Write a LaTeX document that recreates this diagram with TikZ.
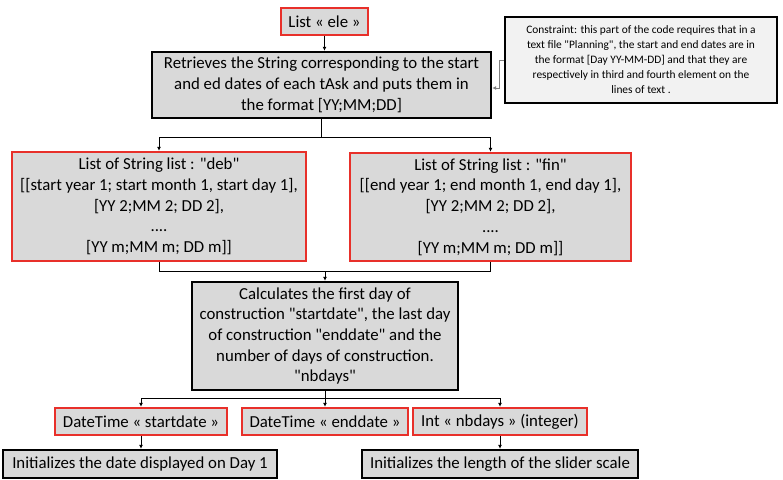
\documentclass[tikz,border=0pt]{standalone}
\usepackage{fontspec}
\newfontfamily\carl{Carlito}
\usetikzlibrary{arrows.meta,calc}
\definecolor{boxgray}{HTML}{D9D9D9}
\definecolor{consgray}{HTML}{F2F2F2}
\definecolor{redline}{HTML}{E8302A}
\begin{document}
\begin{tikzpicture}[x=1pt,y=1pt,
  base/.style={draw, fill=boxgray, align=center, inner sep=2pt, font=\carl\fontsize{16.8}{20.7}\selectfont},
  redbox/.style={base, draw=redline, line width=2.4pt},
  blackbox/.style={base, draw=black, line width=2.4pt},
  consbox/.style={draw=black, line width=1.6pt, fill=consgray, align=center, inner sep=2pt, font=\carl\fontsize{11.4}{15}\selectfont},
  link/.style={line width=0.9pt},
  arr/.style={link, -{Latex[length=4pt,width=4pt]}}
]
\useasboundingbox (0,0) rectangle (783,-479);

\node[redbox, minimum width=87, minimum height=27] (ele) at (324.5,-21.5) {List « ele »};
\node[blackbox, minimum width=339, minimum height=66] (retr) at (321.5,-85)
  {Retrieves the String corresponding to the start\\ and ed dates of each tAsk and puts them in\\ the format {[}YY;MM;DD{]}};
\node[consbox, minimum width=272, minimum height=86] (cons) at (641,-60)
  {Constraint: this part of the code requires that in a\\ text file "Planning", the start and end dates are in\\ the format {[}Day YY-MM-DD{]} and that they are\\ respectively in third and fourth element on the\\ lines of text .};
\node[redbox, minimum width=294, minimum height=109] (deb) at (159,-206.5)
  {List of String list : "deb"\\ {[[}start year 1; start month 1, start day 1{]},\\ {[}YY 2;MM 2; DD 2{]},\\ ....\\ {[}YY m;MM m; DD m{]]}};
\node[redbox, minimum width=281, minimum height=108] (fin) at (490.5,-207)
  {List of String list : "fin"\\ {[[}end year 1; end month 1, end day 1{]},\\ {[}YY 2;MM 2; DD 2{]},\\ ....\\ {[}YY m;MM m; DD m{]]}};
\node[blackbox, minimum width=266, minimum height=108] (calc) at (325,-336)
  {Calculates the first day of\\ construction "startdate", the last day\\ of construction "enddate" and the\\ number of days of construction.\\ "nbdays"};
\node[redbox, minimum width=172, minimum height=27] (sd) at (141,-421.5) {DateTime « startdate »};
\node[redbox, minimum width=166, minimum height=27] (ed) at (325,-421.5) {DateTime « enddate »};
\node[redbox, minimum width=174, minimum height=27] (nb) at (500,-421.5) {Int « nbdays » (integer)};
\node[blackbox, minimum width=274, minimum height=28] (init1) at (140,-464) {Initializes the date displayed on Day 1};
\node[blackbox, minimum width=276, minimum height=28] (init2) at (500,-464) {Initializes the length of the slider scale};

\coordinate (ja) at (0,-137);
\coordinate (jb) at (0,-271);
\coordinate (jc) at (0,-398);
\coordinate (cy1) at (0,-60);
\coordinate (cy2) at (0,-88);

\draw[arr] (ele.south) -- (ele.south |- retr.north);
\draw[link] (retr.south) -- (retr.south |- ja);
\draw[link] (deb.north |- ja) -- (fin.north |- ja);
\draw[arr] (deb.north |- ja) -- (deb.north);
\draw[arr] (fin.north |- ja) -- (fin.north);
\draw[link] (deb.south) |- (fin.south |- jb) -- (fin.south);
\draw[arr] (calc.north |- jb) -- (calc.north);
\draw[link] (sd.north |- jc) -- (nb.north |- jc);
\draw[link] (calc.south) -- (calc.south |- jc);
\draw[arr] (sd.north |- jc) -- (sd.north);
\draw[arr] (ed.north |- jc) -- (ed.north);
\draw[arr] (nb.north |- jc) -- (nb.north);
\draw[arr] (sd.south) -- (sd.south |- init1.north);
\draw[arr] (nb.south) -- (nb.south |- init2.north);
\draw[arr, draw=gray, line width=0.7pt] (cons.west |- cy1) -- ++(-5,0) |- (retr.east |- cy2);
\end{tikzpicture}
\end{document}
